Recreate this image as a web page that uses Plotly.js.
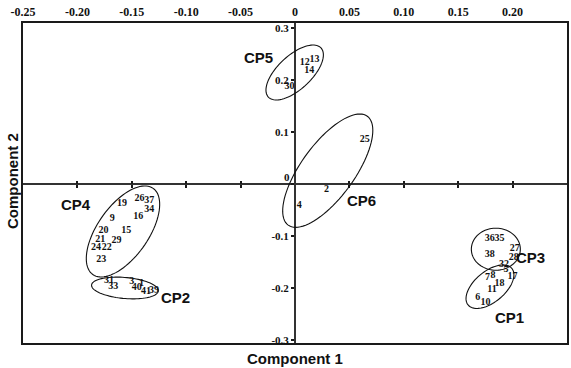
<!DOCTYPE html>
<html><head><meta charset="utf-8">
<script src="https://cdn.plot.ly/plotly-3.0.1.min.js"></script>
<style>html,body{margin:0;padding:0;background:#fff}#chart{width:571px;height:368px}</style>
</head><body><div id="chart"></div>
<script>
// ---- data ----
const pointLabels = ['19','26','37','34','16','9','20','15','21','29','24','22','23',
  '31','33','3','1','40','41','39',
  '12','13','14','30',
  '25','2','4',
  '36','35','38','27','28','32',
  '5','17','7','8','18','11','6','10'];
const component1 = [-0.159,-0.143,-0.134,-0.134,-0.144,-0.168,-0.176,-0.155,-0.179,-0.164,-0.183,-0.173,-0.178,
  -0.171,-0.167,-0.150,-0.141,-0.1455,-0.137,-0.1296,
  0.009,0.018,0.013,-0.005,
  0.064,0.029,0.004,
  0.179,0.188,0.179,0.202,0.201,0.192,
  0.194,0.200,0.177,0.182,0.188,0.181,0.168,0.175];
const component2 = [-0.037,-0.028,-0.031,-0.049,-0.063,-0.067,-0.089,-0.089,-0.106,-0.108,-0.122,-0.122,-0.145,
  -0.186,-0.1975,-0.188,-0.191,-0.200,-0.2067,-0.2042,
  0.234,0.240,0.218,0.187,
  0.086,-0.010,-0.042,
  -0.104,-0.104,-0.135,-0.124,-0.142,-0.154,
  -0.164,-0.177,-0.180,-0.176,-0.191,-0.202,-0.219,-0.228];
const groupNames = ['CP1','CP2','CP3','CP4','CP5','CP6'];
const xTickValues = [-0.25,-0.20,-0.15,-0.10,-0.05,0,0.05,0.10,0.15,0.20,0.25];
const xTickLabels = ['-0.25','-0.20','-0.15','-0.10','-0.05','0','0.05','0.10','0.15','0.20','0.25'];
const yTickValues = [-0.3,-0.2,-0.1,0,0.1,0.2,0.3];
const yTickLabels = ['-0.3','-0.2','-0.1','0','0.1','0.2','0.3'];
const axisTitleX = 'Component 1';
const axisTitleY = 'Component 2';

// ---- layout geometry (not data) ----
const W = 571, H = 368;
const margin = {l:23, r:4, t:23, b:25};
const xRange = [-0.25, 0.25];
const yRange = [-0.3058, 0.3096];
const plotW = W - margin.l - margin.r, plotH = H - margin.t - margin.b;
const pxX = plotW / (xRange[1]-xRange[0]);
const pxY = plotH / (yRange[1]-yRange[0]);
// ellipse outlines: centre in data units, semi-axes in px, angle in degrees
const ellipseGeom = {
  CP1:{c:[0.1792,-0.1975], a:28.5, b:15.3, ang:40},
  CP2:{c:[-0.1563,-0.2000], a:33.5, b:10.5, ang:-5},
  CP3:{c:[0.1846,-0.1254], a:24.5, b:21, ang:0},
  CP4:{c:[-0.1581,-0.0913], a:52.6, b:25.5, ang:55},
  CP5:{c:[-0.0003,0.2144], a:36, b:16.8, ang:43},
  CP6:{c:[0.0301,0.0256], a:67.3, b:26.7, ang:54}
};
const groupLabelPos = {
  CP1:[0.1967,-0.2577], CP2:[-0.1094,-0.2192], CP3:[0.2169,-0.1423],
  CP4:[-0.2017,-0.0394], CP5:[-0.0340,0.2433], CP6:[0.0613,-0.0319]
};

function ellipsePath(g){
  const th = g.ang*Math.PI/180, n = 90;
  let d = '';
  for(let i=0;i<=n;i++){
    const t = 2*Math.PI*i/n;
    const dx = g.a*Math.cos(t)*Math.cos(th) - g.b*Math.sin(t)*Math.sin(th);
    const dy = g.a*Math.cos(t)*Math.sin(th) + g.b*Math.sin(t)*Math.cos(th);
    const x = g.c[0] + dx/pxX, y = g.c[1] + dy/pxY;
    d += (i===0?'M':'L') + x.toFixed(5) + ',' + y.toFixed(5);
  }
  return d + 'Z';
}

const serif = 'Liberation Serif, Times New Roman, serif';
const sans = 'Liberation Sans, Arial, sans-serif';
const lineCol = '#1a1a1a';
const zeroPos = (0 - yRange[0])/(yRange[1]-yRange[0]);
const zeroIdx = yTickValues.indexOf(0);

const traces = [
  {type:'scatter', mode:'text', x:component1, y:component2, text:pointLabels,
   textposition:'middle center', textfont:{family:serif, size:10, color:'#111', weight:'bold'},
   hoverinfo:'text', showlegend:false, cliponaxis:false},
  {type:'scatter', x:[null], y:[null], xaxis:'x2', yaxis:'y', showlegend:false, hoverinfo:'skip'},
  {type:'scatter', x:[null], y:[null], xaxis:'x3', yaxis:'y', showlegend:false, hoverinfo:'skip'},
  {type:'scatter', x:[null], y:[null], xaxis:'x', yaxis:'y2', showlegend:false, hoverinfo:'skip'}
];

const shapes = groupNames.map(g => ({
  type:'path', xref:'x', yref:'y', path:ellipsePath(ellipseGeom[g]),
  line:{color:'#111', width:1.1}, fillcolor:'rgba(0,0,0,0)'
}));

const annotations = groupNames.map(g => ({
  x:groupLabelPos[g][0], y:groupLabelPos[g][1], xref:'x', yref:'y', text:g, showarrow:false,
  font:{family:sans, size:15, color:'#111', weight:'bold'}, xanchor:'center', yanchor:'middle'
}));
annotations.push({x:0.5, y:-15/plotH, xref:'paper', yref:'paper', text:axisTitleX,
  showarrow:false, font:{family:sans, size:15, color:'#111', weight:'bold'}, xanchor:'center', yanchor:'middle'});
annotations.push({x:(12-margin.l)/plotW, y:(H-margin.b-181)/plotH, xref:'paper', yref:'paper', text:axisTitleY,
  textangle:-90, showarrow:false, font:{family:sans, size:15, color:'#111', weight:'bold'}, xanchor:'center', yanchor:'middle'});
// the origin's y tick label sits above the horizontal axis in the reference
annotations.push({x:0, y:0, xref:'x', yref:'y', text:yTickLabels[zeroIdx], showarrow:false,
  xanchor:'right', yanchor:'middle', xshift:-3, yshift:7,
  font:{family:serif, size:11, color:'#111', weight:'bold'}});
const yTickTextShown = yTickLabels.map((t,i) => i===zeroIdx ? '' : t);

const layout = {
  width:W, height:H, margin:margin, paper_bgcolor:'#fff', plot_bgcolor:'#fff',
  showlegend:false, shapes:shapes, annotations:annotations,
  xaxis:{range:xRange, side:'top', anchor:'y', tickvals:xTickValues, ticktext:xTickLabels, ticks:'',
    showgrid:false, zeroline:false, showline:true, mirror:true, linecolor:lineCol, linewidth:2,
    tickfont:{family:serif, size:12, color:'#111', weight:'bold'}, automargin:false, fixedrange:true},
  xaxis2:{range:xRange, overlaying:'x', anchor:'free', position:zeroPos, side:'bottom',
    tickvals:[-0.2,-0.15,-0.1,-0.05,0.05,0.1,0.15,0.2], ticks:'outside', ticklen:3, tickwidth:2, tickcolor:lineCol,
    showticklabels:false, showgrid:false, zeroline:false, showline:true, linecolor:'#333', linewidth:2, automargin:false},
  xaxis3:{range:xRange, overlaying:'x', anchor:'free', position:zeroPos, side:'top',
    tickvals:[-0.2,-0.15,-0.1,-0.05,0.05,0.1,0.15,0.2], ticks:'outside', ticklen:3, tickwidth:2, tickcolor:lineCol,
    showticklabels:false, showgrid:false, zeroline:false, showline:false, automargin:false},
  yaxis:{range:yRange, anchor:'free', position:0.5, side:'left', tickvals:yTickValues, ticktext:yTickTextShown,
    ticks:'outside', ticklen:3, tickwidth:1.5, tickcolor:lineCol,
    showgrid:false, zeroline:false, showline:true, linecolor:'#333', linewidth:2,
    tickfont:{family:serif, size:11, color:'#111', weight:'bold'}, automargin:false, fixedrange:true},
  yaxis2:{range:yRange, overlaying:'y', anchor:'x', side:'left', showticklabels:false, ticks:'',
    showgrid:false, zeroline:false, showline:true, mirror:true, linecolor:lineCol, linewidth:2, automargin:false}
};

Plotly.newPlot('chart', traces, layout, {displayModeBar:false, staticPlot:true});
</script></body></html>
